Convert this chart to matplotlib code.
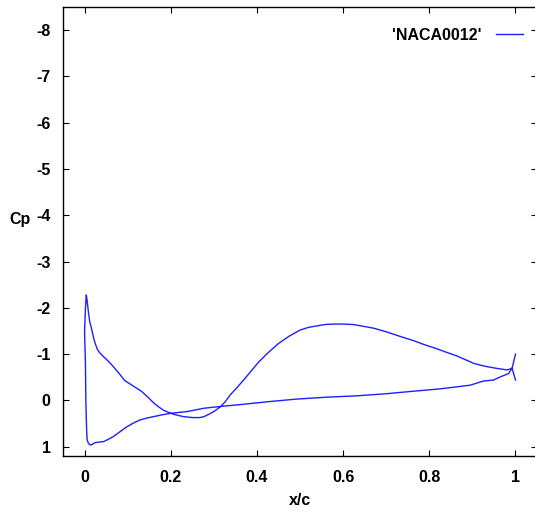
import matplotlib
matplotlib.use("Agg")
import matplotlib.pyplot as plt

# Cp distribution around the NACA0012 section
# (starts at the trailing edge, lower branch to the leading edge, then back)
x_c = [1.0, 0.992, 0.984, 0.965, 0.949, 0.926, 0.895, 0.86, 0.825, 0.764,
       0.694, 0.632, 0.562, 0.493, 0.423, 0.361, 0.315, 0.276, 0.238, 0.199,
       0.18, 0.16, 0.145, 0.129, 0.113, 0.098, 0.083, 0.067, 0.055, 0.044,
       0.033, 0.025, 0.021, 0.016, 0.013, 0.009, 0.006, 0.005, 0.004, 0.003,
       0.002, 0.0, 0.002, 0.004, 0.006, 0.009, 0.012, 0.017, 0.021, 0.025,
       0.03, 0.036, 0.048, 0.056, 0.064, 0.074, 0.083, 0.092, 0.098, 0.11,
       0.12, 0.133, 0.147, 0.16, 0.172, 0.183, 0.195, 0.207, 0.22, 0.23,
       0.25, 0.268, 0.277, 0.284, 0.30, 0.315, 0.327, 0.338, 0.353, 0.369,
       0.387, 0.405, 0.427, 0.45, 0.475, 0.50, 0.52, 0.539, 0.558, 0.578,
       0.60, 0.624, 0.648, 0.671, 0.694, 0.717, 0.74, 0.764, 0.787, 0.81,
       0.837, 0.864, 0.884, 0.903, 0.92, 0.934, 0.958, 0.98, 0.992, 1.0]
cp = [-0.44, -0.70, -0.58, -0.51, -0.44, -0.42, -0.33, -0.29, -0.25, -0.20,
      -0.14, -0.10, -0.07, -0.03, 0.03, 0.09, 0.13, 0.17, 0.24, 0.28,
      0.31, 0.35, 0.38, 0.42, 0.49, 0.57, 0.67, 0.78, 0.84, 0.89,
      0.90, 0.91, 0.93, 0.96, 0.96, 0.93, 0.85, 0.70, 0.40, 0.0,
      -0.8, -1.48, -2.0, -2.28, -2.15, -1.90, -1.70, -1.52, -1.35, -1.22,
      -1.10, -1.02, -0.91, -0.84, -0.76, -0.65, -0.55, -0.44, -0.40, -0.33,
      -0.27, -0.19, -0.07, 0.05, 0.14, 0.21, 0.26, 0.30, 0.33, 0.35,
      0.37, 0.37, 0.35, 0.32, 0.24, 0.14, 0.02, -0.12, -0.27, -0.44,
      -0.64, -0.84, -1.04, -1.23, -1.39, -1.52, -1.58, -1.61, -1.64, -1.65,
      -1.65, -1.64, -1.60, -1.56, -1.50, -1.43, -1.36, -1.29, -1.21, -1.14,
      -1.05, -0.96, -0.88, -0.80, -0.76, -0.73, -0.69, -0.66, -0.69, -1.0]

xticks = [0, 0.2, 0.4, 0.6, 0.8, 1]
xticklabels = ["0", "0.2", "0.4", "0.6", "0.8", "1"]
yticks = [1, 0, -1, -2, -3, -4, -5, -6, -7, -8]

plt.rcParams['font.family'] = ['Liberation Sans', 'DejaVu Sans']
plt.rcParams['font.weight'] = 'bold'

fig = plt.figure(figsize=(5.35, 5.12), dpi=100)
ax = fig.add_axes([0.1178, 0.1094, 0.886, 0.877])

ax.plot(x_c, cp, color="#1f1fff", lw=1.0, label="'NACA0012'")

ax.set_xlim(-0.05, 1.05)
ax.set_ylim(1.2, -8.5)
ax.set_xticks(xticks)
ax.set_xticklabels(xticklabels)
ax.set_yticks(yticks)
ax.set_yticklabels([str(v) for v in yticks])
ax.tick_params(direction='in', top=True, right=True, length=4, width=0.8,
               labelsize=11.5)
ax.tick_params(axis='x', pad=10)
ax.tick_params(axis='y', pad=9)
for s in ax.spines.values():
    s.set_linewidth(1.0)

ax.set_xlabel("x/c", fontsize=11.5, fontweight='bold', labelpad=6)
ax.set_ylabel("Cp", fontsize=11.5, fontweight='bold', rotation=0)
ax.yaxis.set_label_coords(-0.09, 0.51)

ax.legend(loc='upper right', bbox_to_anchor=(1.0, 0.985), frameon=False,
          markerfirst=False, handlelength=1.7, handletextpad=0.9, fontsize=11.5)

fig.savefig("out.png", dpi=100)
